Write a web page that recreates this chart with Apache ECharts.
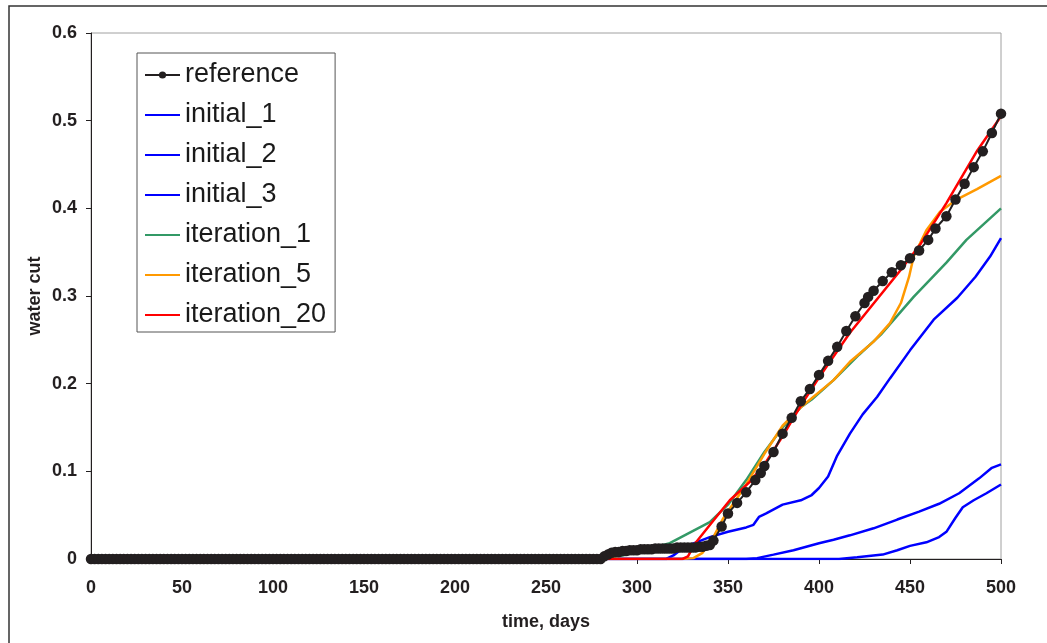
<!DOCTYPE html>
<html>
<head>
<meta charset="utf-8">
<script src="https://cdn.jsdelivr.net/npm/echarts@6/dist/echarts.min.js"></script>
<style>html,body{margin:0;padding:0;background:#fff}#c{width:1047px;height:643px}</style>
</head>
<body>
<div id="c"></div>
<script>
// ---- data ----
const refDays = [0,2,4,6,8,10,12,14,16,18,20,22,24,26,28,30,32,34,36,38,40,42,44,46,48,50,52,54,56,58,60,62,64,66,68,70,72,74,76,78,80,82,84,86,88,90,92,94,96,98,100,102,104,106,108,110,112,114,116,118,120,122,124,126,128,130,132,134,136,138,140,142,144,146,148,150,152,154,156,158,160,162,164,166,168,170,172,174,176,178,180,182,184,186,188,190,192,194,196,198,200,202,204,206,208,210,212,214,216,218,220,222,224,226,228,230,232,234,236,238,240,242,244,246,248,250,252,254,256,258,260,262,264,266,268,270,272,274,276,278,280,282,284,286,288,290,292,294,296,298,300,302,304,306,308,310,312,314,316,318,320,322,324,326,328,330,332,334,336,338,340,342,346.5,350,355,360,365,368,370,375,380,385,390,395,400,405,410,415,420,425,427,430,435,440,445,450,455,460,464,470,475,480,485,490,495,500];
const refCut = [0,0,0,0,0,0,0,0,0,0,0,0,0,0,0,0,0,0,0,0,0,0,0,0,0,0,0,0,0,0,0,0,0,0,0,0,0,0,0,0,0,0,0,0,0,0,0,0,0,0,0,0,0,0,0,0,0,0,0,0,0,0,0,0,0,0,0,0,0,0,0,0,0,0,0,0,0,0,0,0,0,0,0,0,0,0,0,0,0,0,0,0,0,0,0,0,0,0,0,0,0,0,0,0,0,0,0,0,0,0,0,0,0,0,0,0,0,0,0,0,0,0,0,0,0,0,0,0,0,0,0,0,0,0,0,0,0,0,0,0,0,0.003,0.005,0.007,0.008,0.008,0.009,0.009,0.010,0.010,0.010,0.011,0.011,0.011,0.011,0.012,0.012,0.012,0.012,0.012,0.012,0.013,0.013,0.013,0.013,0.013,0.013,0.014,0.014,0.015,0.016,0.021,0.037,0.052,0.064,0.076,0.090,0.098,0.106,0.122,0.143,0.161,0.180,0.194,0.210,0.226,0.242,0.260,0.277,0.292,0.299,0.306,0.317,0.327,0.335,0.343,0.352,0.364,0.377,0.391,0.410,0.428,0.447,0.465,0.486,0.508];

const init1Days = [0,316,320,325,330,340,350,360,364,367,371,380,390,396,400,405,410,417,424,432,439,450,463,476,486,494,500];
const init1Cut  = [0,0,0.004,0.012,0.017,0.025,0.031,0.036,0.039,0.048,0.052,0.062,0.067,0.073,0.081,0.094,0.118,0.143,0.165,0.185,0.206,0.238,0.273,0.298,0.322,0.345,0.366];

const init2Days = [0,360,366,375,386,400,408,417,430,443,455,466,477,488,495,500];
const init2Cut  = [0,0,0.001,0.005,0.010,0.018,0.022,0.027,0.035,0.045,0.054,0.063,0.075,0.092,0.104,0.108];

const init3Days = [0,411,421,435,443,450,459,466,470,475,479,485,492,500];
const init3Cut  = [0,0,0.002,0.005,0.010,0.015,0.019,0.025,0.031,0.047,0.059,0.067,0.075,0.085];

const iter1Days = [0,280,292,318,340,350,360,370,380,390,396,408,422,434,452,470,481,500];
const iter1Cut  = [0,0,0.004,0.018,0.042,0.062,0.090,0.122,0.150,0.173,0.182,0.204,0.233,0.256,0.299,0.338,0.364,0.400];

const iter5Days = [0,324,331,336,342,347,360,370,380,390,408,417,430,439,445,449.5,452,459,466.5,475.6,486.8,500];
const iter5Cut  = [0,0,0.001,0.007,0.025,0.045,0.085,0.120,0.152,0.173,0.204,0.225,0.248,0.269,0.292,0.322,0.345,0.375,0.396,0.410,0.422,0.437];

const iter20Days = [0,325,328,332,342,351,362,370,380,390,400,417,445,456,470,487,500];
const iter20Cut  = [0,0,0.003,0.018,0.044,0.067,0.088,0.108,0.140,0.175,0.207,0.258,0.330,0.360,0.406,0.466,0.505];

const xTicks = {min: 0, max: 500, step: 50};
const yTicks = {min: 0, max: 0.6, step: 0.1};

const seriesNames = ['reference','initial_1','initial_2','initial_3','iteration_1','iteration_5','iteration_20'];

function pairs(d, v){ return d.map((t,i)=>[t, v[i]]); }

const chart = echarts.init(document.getElementById('c'), null, {renderer:'canvas'});
const FONT = '"Liberation Sans", Arial, Helvetica, sans-serif';

function lineSeries(name, days, cut, color, width){
  return {name, type:'line', data:pairs(days,cut), symbol:'none', showSymbol:false,
    lineStyle:{color, width}, itemStyle:{color}, z:2, silent:true};
}

chart.setOption({
  animation:false,
  backgroundColor:'#ffffff',
  graphic:[{type:'rect', shape:{x:9, y:6, width:1100, height:700},
    style:{fill:'none', stroke:'#333333', lineWidth:1.5}, z:-1}],
  grid:{left:91, right:46, top:33, bottom:84, show:true, borderColor:'#a0a0a0', borderWidth:1, backgroundColor:'transparent'},
  legend:{
    data: seriesNames.map((n,i)=> i===0 ? {name:n} :
      {name:n, itemStyle:{color:'rgba(0,0,0,0)', borderWidth:0, opacity:0}}),
    orient:'vertical', left:137, top:53,
    padding:[7,9,2,7], itemGap:10, itemWidth:35, itemHeight:9,
    backgroundColor:'#ffffff', borderColor:'#555555', borderWidth:1, borderRadius:0,
    textStyle:{fontFamily:FONT, fontSize:27, color:'#1a1a1a', lineHeight:30},
    selectedMode:false
  },
  xAxis:{
    type:'value', min:xTicks.min, max:xTicks.max, interval:xTicks.step,
    name:'time, days', nameLocation:'middle', nameGap:54, nameMoveOverlap:false,
    nameTextStyle:{fontFamily:FONT, fontSize:18, fontWeight:'bold', color:'#231f20'},
    axisLine:{show:true, onZero:false, lineStyle:{color:'#231f20', width:1}},
    axisTick:{show:true, length:5, lineStyle:{color:'#231f20'}},
    axisLabel:{fontFamily:FONT, fontSize:18, fontWeight:'bold', color:'#231f20', margin:20},
    splitLine:{show:false}
  },
  yAxis:{
    type:'value', min:yTicks.min, max:yTicks.max, interval:yTicks.step,
    name:'water cut', nameLocation:'middle', nameGap:47, nameMoveOverlap:false,
    nameTextStyle:{fontFamily:FONT, fontSize:18, fontWeight:'bold', color:'#231f20'},
    axisLine:{show:true, onZero:false, lineStyle:{color:'#231f20', width:1}},
    axisTick:{show:true, length:5, lineStyle:{color:'#231f20'}},
    axisLabel:{fontFamily:FONT, fontSize:18, fontWeight:'bold', color:'#231f20', margin:14},
    splitLine:{show:false}
  },
  series:[
    {name:'reference', type:'line', data:pairs(refDays, refCut), symbol:'circle', symbolSize:10.5,
      showSymbol:true, showAllSymbol:true, lineStyle:{color:'#231f20', width:2},
      itemStyle:{color:'#231f20'}, z:5, silent:true},
    lineSeries('initial_1', init1Days, init1Cut, '#0000ff', 2.5),
    lineSeries('initial_2', init2Days, init2Cut, '#0000ff', 2.5),
    lineSeries('initial_3', init3Days, init3Cut, '#0000ff', 2.5),
    lineSeries('iteration_1', iter1Days, iter1Cut, '#339966', 2.5),
    lineSeries('iteration_5', iter5Days, iter5Cut, '#ff9900', 2.5),
    lineSeries('iteration_20', iter20Days, iter20Cut, '#ff0000', 2.5)
  ]
});
</script>
</body>
</html>
